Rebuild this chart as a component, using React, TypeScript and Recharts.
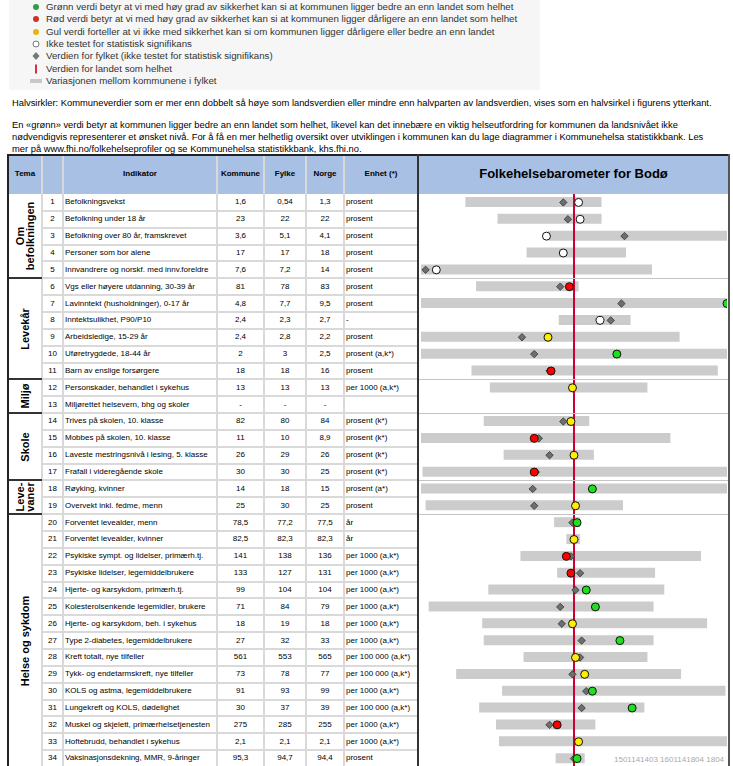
import { Bar, ComposedChart, ReferenceLine, Scatter, XAxis, YAxis } from 'recharts';

const nr = [1, 2, 3, 4, 5, 6, 7, 8, 9, 10, 11, 12, 13, 14, 15, 16, 17, 18, 19, 20, 21, 22, 23, 24, 25, 26, 27, 28, 29, 30, 31, 32, 33, 34];

const indikator = [
  'Befolkningsvekst',
  'Befolkning under 18 år',
  'Befolkning over 80 år, framskrevet',
  'Personer som bor alene',
  'Innvandrere og norskf. med innv.foreldre',
  'Vgs eller høyere utdanning, 30-39 år',
  'Lavinntekt (husholdninger), 0-17 år',
  'Inntektsulikhet, P90/P10',
  'Arbeidsledige, 15-29 år',
  'Uføretrygdede, 18-44 år',
  'Barn av enslige forsørgere',
  'Personskader, behandlet i sykehus',
  'Miljørettet helsevern, bhg og skoler',
  'Trives på skolen, 10. klasse',
  'Mobbes på skolen, 10. klasse',
  'Laveste mestringsnivå i lesing, 5. klasse',
  'Frafall i videregående skole',
  'Røyking, kvinner',
  'Overvekt inkl. fedme, menn',
  'Forventet levealder, menn',
  'Forventet levealder, kvinner',
  'Psykiske sympt. og lidelser, primærh.tj.',
  'Psykiske lidelser, legemiddelbrukere',
  'Hjerte- og karsykdom, primærh.tj.',
  'Kolesterolsenkende legemidler, brukere',
  'Hjerte- og karsykdom, beh. i sykehus',
  'Type 2-diabetes, legemiddelbrukere',
  'Kreft totalt, nye tilfeller',
  'Tykk- og endetarmskreft, nye tilfeller',
  'KOLS og astma, legemiddelbrukere',
  'Lungekreft og KOLS, dødelighet',
  'Muskel og skjelett, primærhelsetjenesten',
  'Hoftebrudd, behandlet i sykehus',
  'Vaksinasjonsdekning, MMR, 9-åringer',
];

const kommune = ['1,6', '23', '3,6', '17', '7,6', '81', '4,8', '2,4', '2,4', '2', '18', '13', '-', '82', '11', '26', '30', '14', '25', '78,5', '82,5', '141', '133', '99', '71', '18', '27', '561', '73', '91', '30', '275', '2,1', '95,3'];
const fylke = ['0,54', '22', '5,1', '17', '7,2', '78', '7,7', '2,3', '2,8', '3', '18', '13', '-', '80', '10', '29', '30', '18', '30', '77,2', '82,3', '138', '127', '104', '84', '19', '32', '553', '78', '93', '37', '285', '2,1', '94,7'];
const norge = ['1,3', '22', '4,1', '18', '14', '83', '9,5', '2,7', '2,2', '2,5', '16', '13', '-', '84', '8,9', '26', '25', '15', '25', '77,5', '82,3', '136', '131', '104', '79', '18', '33', '565', '77', '99', '39', '255', '2,1', '94,4'];
const enhet = ['prosent', 'prosent', 'prosent', 'prosent', 'prosent', 'prosent', 'prosent', '-', 'prosent', 'prosent (a,k*)', 'prosent', 'per 1000 (a,k*)', '', 'prosent (k*)', 'prosent (k*)', 'prosent (k*)', 'prosent (k*)', 'prosent (a*)', 'prosent', 'år', 'år', 'per 1000 (a,k*)', 'per 1000 (a,k*)', 'per 1000 (a,k*)', 'per 1000 (a,k*)', 'per 1000 (a,k*)', 'per 1000 (a,k*)', 'per 100 000 (a,k*)', 'per 100 000 (a,k*)', 'per 1000 (a,k*)', 'per 100 000 (a,k*)', 'per 1000 (a,k*)', 'per 1000 (a,k*)', 'prosent'];

// barometer scale: landet = 0, figurens ytterkant = -1 / 1
const spennFra = [-0.71, -0.5, -0.17, -0.31, -1, -0.64, -1, -0.1, -1, -1, -0.67, -0.55, null, -0.59, -1, -0.46, -0.99, -1, -0.97, -0.13, -0.05, -0.35, -0.11, -0.56, -0.95, -0.6, -0.59, -0.33, -0.77, -0.47, -0.62, -0.51, -0.49, -0.12];
const spennTil = [0.18, 0.18, 1, 0.34, 0.51, 0.03, 1, 0.37, 0.69, 1, 0.94, 0.48, null, 0.1, 0.63, 0.13, 1, 1, 0.32, 0.04, 0.04, 0.83, 0.53, 0.59, 0.52, 0.87, 0.52, 0.48, 0.7, 0.99, 0.46, 0.14, 1, 0.07];
const fylkePos = [-0.07, -0.04, 0.33, -0.07, -0.97, -0.09, 0.31, 0.24, -0.34, -0.26, -0.16, -0.01, null, -0.07, -0.23, -0.16, -0.25, -0.27, -0.26, -0.01, 0, -0.02, 0.04, 0.01, -0.09, -0.08, 0.05, 0.04, -0.01, 0.08, 0.05, -0.16, 0.03, 0];
const kommunePos = [0.03, 0.04, -0.18, -0.07, -0.9, -0.03, 1, 0.17, -0.17, 0.28, -0.15, -0.01, null, -0.02, -0.26, 0, -0.26, 0.12, 0.01, 0.02, 0, -0.05, -0.02, 0.08, 0.14, -0.01, 0.3, 0.01, 0.07, 0.12, 0.38, -0.11, 0.03, 0.02];
// g = grønn, r = rød, y = gul, w = ikke testet
const signifikans = ['w', 'w', 'w', 'w', 'w', 'r', 'g', 'w', 'y', 'g', 'r', 'y', '', 'y', 'r', 'y', 'r', 'g', 'y', 'g', 'y', 'r', 'r', 'g', 'g', 'y', 'g', 'y', 'y', 'g', 'g', 'r', 'y', 'g'];

const temaNavn = [['Om', 'befolkningen'], ['Levekår'], ['Miljø'], ['Skole'], ['Leve-', 'vaner'], ['Helse og sykdom']];
const temaFra = [1, 6, 12, 14, 18, 20];
const temaTil = [5, 11, 13, 17, 19, 34];

const FONT = '"Liberation Sans", Arial, Helvetica, sans-serif';
const TOP = 194;
const ROW_H = 16.85;
const COLS = [8, 42, 63, 217, 264, 306, 344, 418, 729];
const fargeKommune: Record<string, string> = { g: '#1fe01f', r: '#ff0000', y: '#ffee00', w: '#ffffff' };

const chartData = nr.map((n, i) => ({
  nr: String(n),
  spenn: spennFra[i] == null ? null : [spennFra[i], spennTil[i]],
  fylke: fylkePos[i],
  kommune: kommunePos[i],
  sig: signifikans[i],
}));

function Diamond(props: any) {
  const { cx, cy, payload } = props;
  if (payload?.fylke == null || !Number.isFinite(cx) || !Number.isFinite(cy)) return <g />;
  const r = 3.7;
  return <path d={`M${cx},${cy - r}L${cx + r},${cy}L${cx},${cy + r}L${cx - r},${cy}Z`} fill="#6e6e6e" stroke="#333" strokeWidth={0.8} />;
}

function Dot(props: any) {
  const { cx, cy, payload } = props;
  if (payload?.kommune == null || !Number.isFinite(cx) || !Number.isFinite(cy)) return <g />;
  return <circle cx={cx} cy={cy} r={4} fill={fargeKommune[payload.sig]} stroke="#111" strokeWidth={1} />;
}

function T({ x, y, w, center, size = 8, bold, color = '#000', children }: any) {
  return (
    <div
      style={{
        position: 'absolute',
        left: x,
        top: y - 6,
        width: center ? w : undefined,
        height: 12,
        lineHeight: '12px',
        textAlign: center ? 'center' : 'left',
        fontSize: size,
        fontWeight: bold ? 700 : 400,
        color,
        whiteSpace: 'nowrap',
      }}
    >
      {children}
    </div>
  );
}

function Line({ x, y, w, h, c }: any) {
  return <div style={{ position: 'absolute', left: x, top: y, width: w, height: h, background: c }} />;
}

const legendTekst = [
  'Grønn verdi betyr at vi med høy grad av sikkerhet kan si at kommunen ligger bedre an enn landet som helhet',
  'Rød verdi betyr at vi med høy grad av sikkerhet kan si at kommunen ligger dårligere an enn landet som helhet',
  'Gul verdi forteller at vi ikke med sikkerhet kan si om kommunen ligger dårligere eller bedre an enn landet',
  'Ikke testet for statistisk signifikans',
  'Verdien for fylket (ikke testet for statistisk signifikans)',
  'Verdien for landet som helhet',
  'Variasjonen mellom kommunene i fylket',
];

function LegendMark({ i }: { i: number }) {
  if (i < 4) {
    const fill = ['#2f9e47', '#c9342a', '#e6b60c', '#ffffff'][i];
    return <circle cx={6} cy={6} r={3} fill={fill} stroke={i === 3 ? '#555' : 'none'} strokeWidth={0.8} />;
  }
  if (i === 4) return <path d="M6,2L9.5,6L6,10L2.5,6Z" fill="#777" />;
  if (i === 5) return <rect x={5} y={1.5} width={2} height={9} fill="#e02848" />;
  return <rect x={0} y={4} width={12} height={4} fill="#c8c8c8" />;
}

export default function App() {
  const rowTop = (k: number) => TOP + k * ROW_H;
  return (
    <div style={{ position: 'fixed', left: 0, top: 0, width: 733, height: 766, overflow: 'hidden', background: '#fff', fontFamily: FONT }}>
      {/* tegnforklaring */}
      <div style={{ position: 'absolute', left: 9, top: 0, width: 531, height: 90, background: '#f6f6f6' }} />
      {legendTekst.map((t, i) => (
        <div key={t}>
          <svg style={{ position: 'absolute', left: 30, top: 1 + i * 12.35 }} width={12} height={12}>
            <LegendMark i={i} />
          </svg>
          <T x={46} y={7 + i * 12.35} size={9.7} color="#333">{t}</T>
        </div>
      ))}

      <T x={12} y={103} size={9.35}>Halvsirkler: Kommuneverdier som er mer enn dobbelt så høye som landsverdien eller mindre enn halvparten av landsverdien, vises som en halvsirkel i figurens ytterkant.</T>
      <T x={12} y={125} size={9.35}>En «grønn» verdi betyr at kommunen ligger bedre an enn landet som helhet, likevel kan det innebære en viktig helseutfordring for kommunen da landsnivået ikke</T>
      <T x={12} y={137} size={9.35}>nødvendigvis representerer et ønsket nivå. For å få en mer helhetlig oversikt over utviklingen i kommunen kan du lage diagrammer i Kommunehelsa statistikkbank. Les</T>
      <T x={12} y={149} size={9.35}>mer på www.fhi.no/folkehelseprofiler og se Kommunehelsa statistikkbank, khs.fhi.no.</T>

      {/* overskrift */}
      <Line x={8} y={155} w={721} h={39} c="#a8c0e4" />
      <T x={COLS[0]} w={COLS[1] - COLS[0]} y={174} center bold>Tema</T>
      <T x={COLS[2]} w={COLS[3] - COLS[2]} y={174} center bold>Indikator</T>
      <T x={COLS[3]} w={COLS[4] - COLS[3]} y={174} center bold>Kommune</T>
      <T x={COLS[4]} w={COLS[5] - COLS[4]} y={174} center bold>Fylke</T>
      <T x={COLS[5]} w={COLS[6] - COLS[5]} y={174} center bold>Norge</T>
      <T x={COLS[6]} w={COLS[7] - COLS[6]} y={174} center bold>Enhet (*)</T>
      <T x={COLS[7]} w={COLS[8] - COLS[7]} y={174} center bold size={13}>Folkehelsebarometer for Bodø</T>

      {/* diagram */}
      <div style={{ position: 'absolute', left: 418, top: TOP }}>
        <ComposedChart layout="vertical" width={311} height={Math.round(34 * ROW_H)} data={chartData} margin={{ top: 0, right: 2, bottom: 0, left: 3 }}>
          <XAxis type="number" domain={[-1, 1]} hide allowDataOverflow />
          <YAxis type="category" dataKey="nr" hide />
          <Bar dataKey="spenn" fill="#cccccc" barSize={10} isAnimationActive={false} />
          <Scatter dataKey="fylke" shape={<Diamond />} isAnimationActive={false} />
          <Scatter dataKey="kommune" shape={<Dot />} isAnimationActive={false} />
          <ReferenceLine x={0} stroke="#cc0033" strokeWidth={2} />
        </ComposedChart>
      </div>

      {/* tabellrader */}
      {nr.map((n, i) => {
        const cy = rowTop(i) + ROW_H / 2;
        return (
          <div key={n}>
            <T x={COLS[1]} w={COLS[2] - COLS[1]} y={cy} center>{n}</T>
            <T x={65} y={cy}>{indikator[i]}</T>
            <T x={COLS[3]} w={COLS[4] - COLS[3]} y={cy} center>{kommune[i]}</T>
            <T x={COLS[4]} w={COLS[5] - COLS[4]} y={cy} center>{fylke[i]}</T>
            <T x={COLS[5]} w={COLS[6] - COLS[5]} y={cy} center>{norge[i]}</T>
            <T x={346} y={cy}>{enhet[i]}</T>
          </div>
        );
      })}

      {nr.slice(1).map((n, i) => (
        <Line key={'h' + n} x={42} y={rowTop(i + 1) - 1} w={375} h={2} c="#d9d9d9" />
      ))}
      {COLS.slice(1, 7).map((x) => (
        <Line key={'v' + x} x={x - 1} y={155} w={2} h={611} c="#d9d9d9" />
      ))}

      {temaNavn.map((navn, g) => {
        const y0 = rowTop(temaFra[g] - 1);
        const y1 = rowTop(temaTil[g]);
        return (
          <div key={navn.join('')}>
            {g > 0 && <Line x={8} y={y0 - 1} w={34} h={2} c="#333" />}
            {g > 0 && <Line x={419} y={y0 - 0.5} w={309} h={1.2} c="#c4c4c4" />}
            <div
              style={{
                position: 'absolute',
                left: 25,
                top: (y0 + y1) / 2,
                transform: 'translate(-50%, -50%) rotate(-90deg)',
                fontSize: 11,
                fontWeight: 700,
                lineHeight: '10px',
                textAlign: 'center',
                whiteSpace: 'nowrap',
              }}
            >
              {navn.map((l) => (
                <div key={l}>{l}</div>
              ))}
            </div>
          </div>
        );
      })}

      {/* rammer */}
      <Line x={7} y={154} w={723} h={2} c="#222" />
      <Line x={7} y={154} w={2} h={612} c="#222" />
      <Line x={417} y={154} w={2} h={612} c="#333" />
      <Line x={728} y={154} w={2} h={612} c="#555" />

      <div style={{ position: 'absolute', left: 614, top: 755, fontSize: 8, lineHeight: '10px', color: '#aaa', whiteSpace: 'nowrap' }}>1501141403 1601141804 1804</div>
    </div>
  );
}
